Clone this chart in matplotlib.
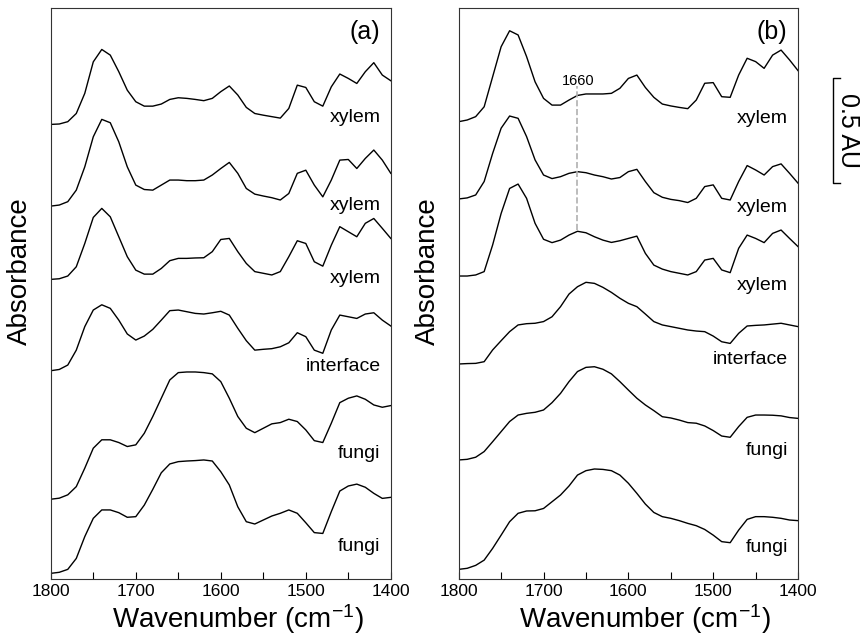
import numpy as np
import matplotlib
matplotlib.use("Agg")
from matplotlib import pyplot as plt
from matplotlib.ticker import MultipleLocator
from matplotlib.transforms import blended_transform_factory

plt.rcParams['font.family'] = ['Liberation Sans', 'DejaVu Sans']
plt.rcParams['mathtext.default'] = 'regular'

# wavenumber grid (cm-1), spectra read every 10 cm-1
wavenumber = np.arange(1800, 1399, -10)

# panel (a): absorbance above each trace's own baseline (AU)
a_xylem_1 = [0.000, 0.002, 0.013, 0.052, 0.148, 0.298, 0.357, 0.330, 0.251, 0.163, 0.108, 0.087, 0.087, 0.097,
             0.119, 0.127, 0.124, 0.119, 0.113, 0.124, 0.156, 0.183, 0.140, 0.081, 0.052, 0.044, 0.037, 0.030,
             0.076, 0.187, 0.176, 0.108, 0.087, 0.179, 0.240, 0.219, 0.195, 0.251, 0.294, 0.235, 0.208]
a_xylem_2 = [0.000, 0.005, 0.021, 0.076, 0.187, 0.330, 0.413, 0.397, 0.306, 0.187, 0.100, 0.079, 0.076, 0.100,
             0.124, 0.124, 0.121, 0.121, 0.124, 0.148, 0.179, 0.208, 0.156, 0.084, 0.057, 0.048, 0.040, 0.029,
             0.060, 0.156, 0.171, 0.100, 0.044, 0.124, 0.219, 0.222, 0.179, 0.227, 0.267, 0.219, 0.156]
a_xylem_3 = [0.000, 0.003, 0.016, 0.060, 0.171, 0.295, 0.338, 0.298, 0.203, 0.108, 0.044, 0.025, 0.025, 0.052,
             0.089, 0.100, 0.100, 0.102, 0.103, 0.132, 0.190, 0.195, 0.132, 0.076, 0.037, 0.029, 0.021, 0.037,
             0.108, 0.184, 0.171, 0.084, 0.063, 0.163, 0.251, 0.227, 0.203, 0.267, 0.290, 0.243, 0.195]
a_interface = [0.000, 0.006, 0.027, 0.098, 0.210, 0.289, 0.314, 0.297, 0.241, 0.175, 0.146, 0.165, 0.197, 0.241,
               0.286, 0.289, 0.281, 0.273, 0.270, 0.276, 0.283, 0.265, 0.202, 0.143, 0.098, 0.102, 0.105, 0.114,
               0.133, 0.181, 0.162, 0.098, 0.083, 0.194, 0.265, 0.257, 0.249, 0.270, 0.276, 0.241, 0.213]
a_fungi_1 = [0.000, 0.005, 0.021, 0.060, 0.148, 0.243, 0.283, 0.283, 0.270, 0.251, 0.259, 0.314, 0.394, 0.481,
             0.568, 0.603, 0.606, 0.606, 0.603, 0.597, 0.560, 0.481, 0.394, 0.338, 0.317, 0.338, 0.359, 0.365,
             0.381, 0.370, 0.330, 0.279, 0.270, 0.362, 0.460, 0.481, 0.492, 0.476, 0.449, 0.438, 0.446]
a_fungi_2 = [0.000, 0.005, 0.019, 0.071, 0.175, 0.262, 0.302, 0.302, 0.289, 0.267, 0.270, 0.325, 0.400, 0.479,
             0.521, 0.532, 0.535, 0.537, 0.540, 0.535, 0.484, 0.421, 0.317, 0.246, 0.235, 0.254, 0.273, 0.286,
             0.302, 0.286, 0.241, 0.194, 0.190, 0.294, 0.392, 0.416, 0.425, 0.410, 0.381, 0.357, 0.362]

# panel (b)
b_xylem_1 = [0.000, 0.008, 0.024, 0.071, 0.214, 0.357, 0.433, 0.413, 0.310, 0.190, 0.111, 0.079, 0.079, 0.103,
             0.125, 0.132, 0.132, 0.132, 0.135, 0.159, 0.206, 0.222, 0.163, 0.116, 0.084, 0.075, 0.068, 0.062,
             0.103, 0.183, 0.186, 0.119, 0.116, 0.222, 0.302, 0.286, 0.254, 0.317, 0.341, 0.294, 0.243]
b_xylem_2 = [0.000, 0.005, 0.019, 0.083, 0.217, 0.337, 0.395, 0.384, 0.297, 0.186, 0.114, 0.097, 0.106, 0.122,
             0.130, 0.125, 0.114, 0.106, 0.095, 0.102, 0.130, 0.141, 0.083, 0.030, 0.008, -0.002, -0.008, -0.017,
             0.003, 0.059, 0.067, 0.003, -0.005, 0.083, 0.159, 0.138, 0.114, 0.154, 0.167, 0.122, 0.075]
b_xylem_3 = [0.000, 0.000, 0.005, 0.021, 0.148, 0.298, 0.417, 0.438, 0.370, 0.251, 0.175, 0.159, 0.171, 0.195,
             0.213, 0.206, 0.187, 0.171, 0.160, 0.168, 0.179, 0.190, 0.108, 0.052, 0.033, 0.021, 0.013, 0.005,
             0.021, 0.076, 0.084, 0.029, 0.016, 0.132, 0.195, 0.179, 0.159, 0.203, 0.219, 0.179, 0.140]
b_interface = [0.000, 0.002, 0.003, 0.011, 0.067, 0.111, 0.154, 0.186, 0.192, 0.194, 0.202, 0.225, 0.273, 0.333,
               0.368, 0.389, 0.384, 0.365, 0.341, 0.313, 0.289, 0.273, 0.238, 0.202, 0.186, 0.178, 0.170, 0.162,
               0.157, 0.154, 0.133, 0.106, 0.098, 0.146, 0.181, 0.184, 0.186, 0.190, 0.194, 0.186, 0.178]
b_fungi_1 = [0.000, 0.003, 0.013, 0.040, 0.087, 0.135, 0.183, 0.214, 0.222, 0.227, 0.238, 0.273, 0.317, 0.373,
             0.421, 0.441, 0.444, 0.432, 0.410, 0.373, 0.333, 0.294, 0.262, 0.235, 0.206, 0.200, 0.190, 0.178,
             0.175, 0.162, 0.140, 0.114, 0.108, 0.159, 0.203, 0.214, 0.214, 0.213, 0.210, 0.202, 0.198]
b_fungi_2 = [0.000, 0.005, 0.019, 0.044, 0.100, 0.163, 0.227, 0.267, 0.278, 0.279, 0.290, 0.322, 0.354, 0.397,
             0.449, 0.470, 0.478, 0.476, 0.470, 0.449, 0.410, 0.362, 0.311, 0.271, 0.251, 0.243, 0.232, 0.219,
             0.208, 0.190, 0.163, 0.132, 0.127, 0.187, 0.238, 0.251, 0.251, 0.248, 0.243, 0.235, 0.232]

labels = ['xylem', 'xylem', 'xylem', 'interface', 'fungi', 'fungi']
a_spectra = [a_xylem_1, a_xylem_2, a_xylem_3, a_interface, a_fungi_1, a_fungi_2]
b_spectra = [b_xylem_1, b_xylem_2, b_xylem_3, b_interface, b_fungi_1, b_fungi_2]
a_offsets = [2.165, 1.776, 1.427, 0.992, 0.380, 0.027]
b_offsets = [2.178, 1.810, 1.443, 1.024, 0.567, 0.046]
a_label_y = [2.200, 1.781, 1.433, 1.010, 0.600, 0.157]
b_label_y = [2.195, 1.769, 1.398, 1.045, 0.614, 0.150]

fig = plt.figure(figsize=(8.65, 6.43), dpi=100)
ax_a = fig.add_axes([0.0587, 0.0995, 0.3931, 0.8876])
ax_b = fig.add_axes([0.5303, 0.0995, 0.3923, 0.8876])

panels = [(ax_a, a_spectra, a_offsets, a_label_y, '(a)'),
          (ax_b, b_spectra, b_offsets, b_label_y, '(b)')]
for ax, spectra, offsets, label_y, tag in panels:
    for spec, off, lab, ly in zip(spectra, offsets, labels, label_y):
        ax.plot(wavenumber, np.array(spec) + off, color='black', linewidth=1.0)
        ax.text(0.97, ly, lab, transform=blended_transform_factory(ax.transAxes, ax.transData),
                ha='right', va='center', fontsize=14)
    ax.set_xlim(1800, 1400)
    ax.set_ylim(0, 2.718)
    ax.set_yticks([])
    ax.xaxis.set_major_locator(MultipleLocator(100))
    ax.xaxis.set_minor_locator(MultipleLocator(50))
    ax.tick_params(axis='x', which='both', direction='in', length=5, width=0.8, labelsize=12.5, pad=3.5)
    for sp in ax.spines.values():
        sp.set_color('#333333')
        sp.set_linewidth(0.8)
    ax.set_xlabel('Wavenumber (cm$^{-1}$)', fontsize=20)
    ax.xaxis.set_label_coords(0.55, -0.041)
    ax.set_ylabel('Absorbance', fontsize=20)
    ax.yaxis.set_label_coords(-0.051, 0.54)
    ax.text(0.968, 0.958, tag, transform=ax.transAxes, ha='right', va='center', fontsize=18)

# 1660 marker in panel (b)
ax_b.plot([1660, 1660], [1.66, 2.35], color='#b0b0b0', linestyle='--', linewidth=1.2)
ax_b.text(1659, 2.34, '1660', ha='center', va='bottom', fontsize=10.5)

# 0.5 AU scale bar
trans = blended_transform_factory(ax_b.transAxes, ax_b.transData)
ax_b.plot([1.124, 1.103, 1.103, 1.124], [2.385, 2.385, 1.885, 1.885], color='black', linewidth=1.0,
          transform=trans, clip_on=False)
ax_b.text(1.147, 2.135, '0.5 AU', transform=trans, rotation=270, ha='center', va='center', fontsize=18)

fig.savefig('out.png', dpi=100)
